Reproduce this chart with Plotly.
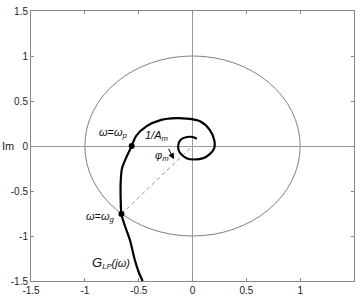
import plotly.graph_objects as go

# Nyquist curve G_LP(jw)
curve_re = [-0.463, -0.50, -0.535, -0.58, -0.63, -0.66, -0.667, -0.667, -0.655, -0.62, -0.565,
            -0.525, -0.425, -0.29, -0.15, -0.056, 0.07, 0.16, 0.203, 0.20, 0.16, 0.10, 0.02,
            -0.056, -0.12, -0.133, -0.11, -0.05, 0.0, 0.04]
curve_im = [-1.5, -1.4, -1.27, -1.05, -0.88, -0.76, -0.6, -0.4, -0.25, -0.14, 0.0,
            0.11, 0.22, 0.29, 0.31, 0.305, 0.275, 0.18, 0.06, -0.03, -0.09, -0.135, -0.15,
            -0.135, -0.07, 0.0, 0.07, 0.1, 0.1, 0.08]

# key points
omega_p = (-0.565, 0.0)
omega_g = (-0.66, -0.755)
circle_radius = 1.0

tick_vals = [-1.5, -1, -0.5, 0, 0.5, 1, 1.5]
tick_text = ["-1.5", "-1", "-0.5", "0", "0.5", "1", "1.5"]

FONT = "Liberation Sans, Arial, sans-serif"

fig = go.Figure()

# dashed line from omega_g to origin
fig.add_trace(go.Scatter(x=[omega_g[0], 0], y=[omega_g[1], 0], mode="lines",
                         line=dict(color="#999999", width=1, dash="4px,3px"),
                         hoverinfo="skip", showlegend=False))

fig.add_trace(go.Scatter(x=curve_re, y=curve_im, mode="lines",
                         line=dict(color="black", width=2.2, shape="spline", smoothing=0.8),
                         showlegend=False))

fig.add_trace(go.Scatter(x=[omega_p[0], omega_g[0]], y=[omega_p[1], omega_g[1]],
                         mode="markers", marker=dict(color="black", size=6),
                         showlegend=False))

fig.add_shape(type="circle", xref="x", yref="y",
              x0=-circle_radius, y0=-circle_radius, x1=circle_radius, y1=circle_radius,
              line=dict(color="#808080", width=1), layer="below")

afont = dict(family=FONT, size=11, color="#111")
ann = [
    dict(x=-0.585, y=0.14, text="<i>ω</i>=<i>ω<sub>p</sub></i>", xanchor="right", yanchor="middle"),
    dict(x=-0.46, y=0.115, text="<i>1/A<sub>m</sub></i>", xanchor="left", yanchor="middle"),
    dict(x=-0.37, y=-0.11, text="<i>φ<sub>m</sub></i>", xanchor="left", yanchor="middle"),
    dict(x=-0.70, y=-0.79, text="<i>ω</i>=<i>ω<sub>g</sub></i>", xanchor="right", yanchor="middle"),
    dict(x=-0.95, y=-1.30, text="<i><span style='font-size:13px'>G</span><sub>LP</sub>(jω)</i>",
         xanchor="left", yanchor="middle"),
]
for a in ann:
    fig.add_annotation(xref="x", yref="y", showarrow=False, font=afont, **a)

# phi_m arrow
fig.add_annotation(xref="x", yref="y", x=-0.173, y=-0.148, ax=-6, ay=-12,
                   showarrow=True, arrowhead=2, arrowsize=1.2, arrowwidth=1,
                   arrowcolor="black", text="")

# axis titles (horizontal, MATLAB style)
fig.add_annotation(xref="paper", yref="paper", x=0.5, y=0, yshift=-22, text="Re",
                   showarrow=False, xanchor="center", yanchor="top",
                   font=dict(family=FONT, size=11, color="#222"))
fig.add_annotation(xref="paper", yref="y", x=0, y=0, xshift=-23, text="Im",
                   showarrow=False, xanchor="center", yanchor="middle",
                   font=dict(family=FONT, size=11, color="#222"))

axis_common = dict(range=[-1.5, 1.5], tickvals=tick_vals, ticktext=tick_text,
                   showgrid=False, zeroline=True, zerolinecolor="#999999", zerolinewidth=1,
                   showline=True, linecolor="#888888", linewidth=1, mirror="ticks",
                   ticks="inside", ticklen=3, tickcolor="#888888",
                   tickfont=dict(family=FONT, size=10, color="#222"))

fig.update_layout(
    width=360, height=301,
    margin=dict(l=31, r=5, t=6, b=20),
    paper_bgcolor="white", plot_bgcolor="white",
    xaxis=dict(**axis_common),
    yaxis=dict(**axis_common),
)

fig.write_html("out.html")
